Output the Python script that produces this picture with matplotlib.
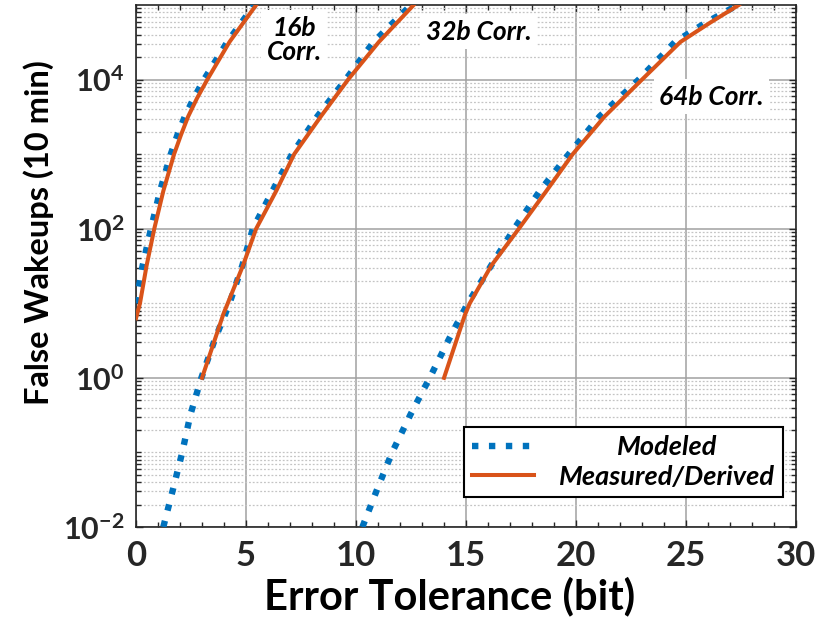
import numpy as np
import matplotlib
matplotlib.use("Agg")
import matplotlib.pyplot as plt
from matplotlib.ticker import FixedLocator, NullFormatter, LogFormatterMathtext

plt.rcParams['font.family'] = ['Lato', 'DejaVu Sans']
plt.rcParams['mathtext.fontset'] = 'custom'
plt.rcParams['mathtext.rm'] = 'Lato:bold'
plt.rcParams['mathtext.bf'] = 'Lato:bold'

# decade grid used for reading the curves
y_grid = [0.01, 0.032, 0.1, 0.32, 1, 3.2, 10, 32, 100, 320, 1000, 3200, 1e4, 3.2e4, 1e5]

# 16b correlator
mod16_x = [0.0, 0.3, 0.68, 1.09, 1.58, 1.88, 2.22, 2.62, 3.09, 4.15, 5.38]
mod16_y = [10, 32, 100, 320, 1000, 1800, 3200, 5600, 1e4, 3.2e4, 1e5]
meas16_x = [0.0, 0.18, 0.48, 0.83, 1.24, 1.73, 2.04, 2.37, 2.77, 3.24, 4.25, 5.46]
meas16_y = [6.3, 10, 32, 100, 320, 1000, 1800, 3200, 5600, 1e4, 3.2e4, 1e5]

# 32b correlator
mod32_x = [1.24, 1.68, 2.1, 2.47, 2.97, 3.57, 4.25, 4.83, 5.31, 6.2, 7.09, 8.24, 9.53, 10.8, 12.5]
mod32_y = y_grid
meas32_x = [3.0, 3.98, 4.17, 4.86, 5.46, 6.37, 7.19, 8.4, 9.64, 11.04, 12.62]
meas32_y = [1, 7.3, 10, 32, 100, 320, 1000, 3200, 1e4, 3.2e4, 1e5]

# 64b correlator
mod64_x = [10.29, 10.96, 11.64, 12.47, 13.35, 14.2, 15.08, 16.14, 17.19, 18.35, 19.67,
           21.07, 22.85, 24.5, 25.9, 27.35]
mod64_y = [0.01, 0.032, 0.1, 0.32, 1, 3.2, 10, 32, 100, 320, 1000,
           3200, 1e4, 3.2e4, 5.8e4, 1e5]
meas64_x = [14.0, 14.95, 15.17, 16.15, 17.4, 18.65, 19.85, 21.3, 23.0, 24.75, 26.1, 27.4]
meas64_y = [1, 7, 10, 32, 100, 320, 1000, 3200, 1e4, 3.2e4, 5.8e4, 1e5]

blue = '#0072BD'
orange = '#D95319'
dark = '#262626'

fig = plt.figure(figsize=(8.16, 6.25), dpi=100)
ax = fig.add_axes([0.1667, 0.1568, 0.8088, 0.8352])

for mx, my, sx, sy in [(mod16_x, mod16_y, meas16_x, meas16_y),
                       (mod32_x, mod32_y, meas32_x, meas32_y),
                       (mod64_x, mod64_y, meas64_x, meas64_y)]:
    ax.plot(mx, my, linestyle=':', color=blue, lw=4.6, zorder=3)
    ax.plot(sx, sy, linestyle='-', color=orange, lw=2.9, zorder=4)

ax.set_yscale('log')
ax.set_xlim(0, 30)
ax.set_ylim(1e-2, 1e5)

ax.set_xticks([0, 5, 10, 15, 20, 25, 30])
ax.xaxis.set_minor_locator(FixedLocator(np.arange(0, 31, 1)))
ax.yaxis.set_major_locator(FixedLocator([1e-2, 1e0, 1e2, 1e4]))
ax.yaxis.set_major_formatter(LogFormatterMathtext())
minor_y = [s * 10.0 ** k for k in range(-2, 5) for s in range(1, 10)]
minor_y = [v for v in minor_y if v not in (1e-2, 1e0, 1e2, 1e4)]
ax.yaxis.set_minor_locator(FixedLocator(minor_y))
ax.yaxis.set_minor_formatter(NullFormatter())

ax.grid(True, which='major', color='#a0a0a0', lw=1.1, ls='-', zorder=0)
ax.yaxis.grid(True, which='minor', color='#c4c4c4', lw=0.9, ls=(0, (1.5, 1.5)), zorder=0)
ax.xaxis.grid(False, which='minor')

ax.tick_params(which='both', direction='in', top=True, right=True, color=dark,
               width=1.0)
ax.tick_params(which='major', length=5)
ax.tick_params(which='minor', length=3.5)
ax.tick_params(axis='x', which='major', labelsize=25, labelcolor=dark, pad=9)
ax.tick_params(axis='y', which='major', labelsize=22, labelcolor=dark, pad=8)
for lab in ax.get_xticklabels() + ax.get_yticklabels():
    lab.set_fontweight('bold')
for sp in ax.spines.values():
    sp.set_color(dark)
    sp.set_linewidth(1.2)

ax.set_xlabel('Error Tolerance (bit)', fontsize=30, fontweight='bold')
ax.set_ylabel('False Wakeups (10 min)', fontsize=23.5, fontweight='bold')
ax.xaxis.set_label_coords(0.475, -0.095)
ax.yaxis.set_label_coords(-0.124, 0.565)

box = dict(facecolor='white', edgecolor='none', pad=4)
ax.text(7.19, 3.4e4, '16b\nCorr.', ha='center', va='center', fontsize=19,
        fontweight='bold', fontstyle='italic', bbox=box, linespacing=1.0, zorder=5)
ax.text(15.57, 4.4e4, '32b Corr.', ha='center', va='center', fontsize=19,
        fontweight='bold', fontstyle='italic', bbox=box, zorder=5)
ax.text(26.15, 5900, '64b Corr.', ha='center', va='center', fontsize=19,
        fontweight='bold', fontstyle='italic', bbox=box, zorder=5)

h1, = ax.plot([], [], linestyle=':', color=blue, lw=4.6)
h2, = ax.plot([], [], linestyle='-', color=orange, lw=2.9)
leg = ax.legend([h1, h2], ['Modeled', 'Measured/Derived'], loc='lower right',
                bbox_to_anchor=(0.98, 0.0575), borderaxespad=0, fancybox=False,
                framealpha=1, edgecolor='black', handlelength=2.3,
                prop=dict(size=19.5, weight='bold', style='italic'),
                borderpad=0.3, labelspacing=0.2, handletextpad=0.9)
leg.get_frame().set_linewidth(1.5)
leg.set_zorder(6)

# center the shorter legend label over the longer one
fig.canvas.draw()
t_short, t_long = leg.get_texts()
w_short = t_short.get_window_extent().width
w_long = t_long.get_window_extent().width
t_short.set_x((w_long - w_short) / 2)

fig.savefig('out.png', dpi=100)
